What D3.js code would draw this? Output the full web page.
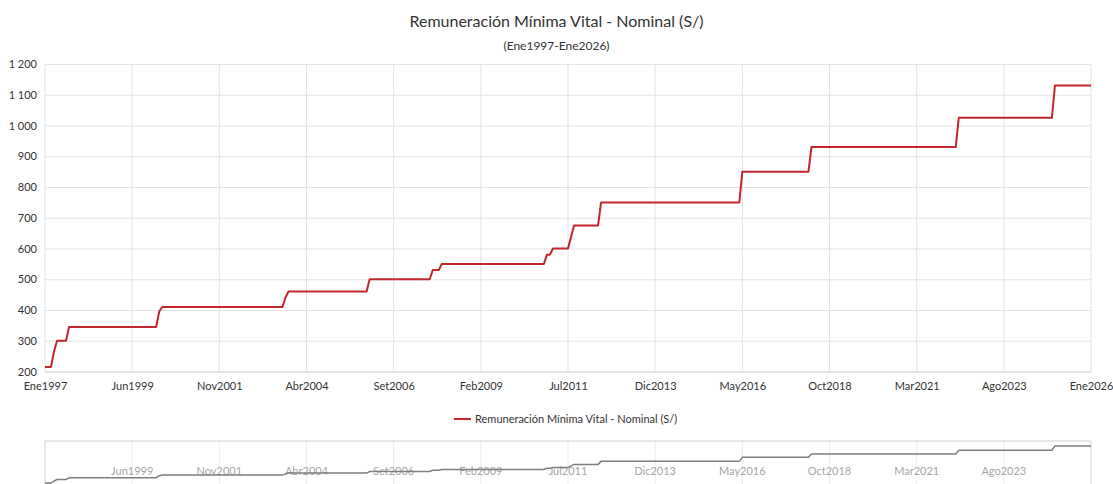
<!DOCTYPE html>
<html>
<head>
<meta charset="utf-8">
<script src="https://cdn.jsdelivr.net/npm/d3@7"></script>
<style>
  body { margin: 0; background: #fff; }
  svg { display: block; font-family: Lato, "Open Sans", sans-serif; }
</style>
</head>
<body>
<div id="chart"></div>
<script>
// RMV nominal, puntos de cambio (mes, soles)
const fechas = ["Ene1997","Mar1997","Abr1997","May1997","Ago1997","Set1997",
  "Feb2000","Mar2000","Abr2000","Ago2003","Set2003","Oct2003",
  "Dic2005","Ene2006","Set2007","Oct2007","Dic2007","Ene2008",
  "Nov2010","Dic2010","Ene2011","Feb2011","Jul2011","Ago2011","Set2011",
  "May2012","Jun2012","Abr2016","May2016","Mar2018","Abr2018",
  "Abr2022","May2022","Dic2024","Ene2025","Ene2026"];
const valores = [215,215,265,300,300,345,
  345,395,410,410,440,460,
  460,500,500,530,530,550,
  550,580,580,600,600,637,675,
  675,750,750,850,850,930,
  930,1025,1025,1130,1130];
const tickLabels = ["Ene1997","Jun1999","Nov2001","Abr2004","Set2006","Feb2009",
  "Jul2011","Dic2013","May2016","Oct2018","Mar2021","Ago2023","Ene2026"];
const yTicks = [200,300,400,500,600,700,800,900,1000,1100,1200];
const serieNombre = "Remuneración Mínima Vital - Nominal (S/)";
const titulo = "Remuneración Mínima Vital - Nominal (S/)";
const subtitulo = "(Ene1997-Ene2026)";

const meses = ["Ene","Feb","Mar","Abr","May","Jun","Jul","Ago","Set","Oct","Nov","Dic"];
const toIdx = s => (+s.slice(3) - 1997) * 12 + meses.indexOf(s.slice(0, 3));

const data = fechas.map((f, i) => ({x: toIdx(f), y: valores[i]}));

const width = 1113, height = 484;
const plot = {left: 45, right: 1091, top: 64, bottom: 371.5};
const lineColor = "#c1272d";

const loc = d3.formatLocale({decimal: ",", thousands: " ", grouping: [3], currency: ["", ""]});
const fmt = loc.format(",d");

const svg = d3.select("#chart").append("svg")
    .attr("width", width)
    .attr("height", height);

const x = d3.scaleLinear()
    .domain([0, toIdx("Ene2026")])
    .range([plot.left, plot.right]);
const y = d3.scaleLinear()
    .domain([200, 1200])
    .range([plot.bottom, plot.top]);

// titulo
svg.append("text")
    .attr("x", width / 2).attr("y", 27)
    .attr("text-anchor", "middle")
    .style("font-size", "16px").style("fill", "#333")
    .text(titulo);
svg.append("text")
    .attr("x", width / 2).attr("y", 50)
    .attr("text-anchor", "middle")
    .style("font-size", "12px").style("fill", "#333")
    .text(subtitulo);

// grilla vertical
const tickIdx = tickLabels.map(toIdx);
svg.append("g")
    .selectAll("line")
    .data(tickIdx)
    .join("line")
    .attr("x1", d => x(d)).attr("x2", d => x(d))
    .attr("y1", plot.top).attr("y2", plot.bottom)
    .attr("stroke", "#e3e3e3").attr("stroke-width", 1);

// eje y
const yAxis = svg.append("g")
    .attr("transform", "translate(" + plot.left + ",0)")
    .call(d3.axisLeft(y).tickValues(yTicks).tickFormat(fmt)
        .tickSize(-(plot.right - plot.left)).tickPadding(8));
yAxis.select(".domain").remove();
yAxis.selectAll(".tick line").attr("stroke", "#e3e3e3");
yAxis.selectAll(".tick text")
    .style("font-size", "11px").style("fill", "#333").style("font-family", "Lato, sans-serif");

// eje x
const xAxis = svg.append("g")
    .attr("transform", "translate(0," + plot.bottom + ")")
    .call(d3.axisBottom(x).tickValues(tickIdx)
        .tickFormat((d, i) => tickLabels[i]).tickSize(0).tickPadding(11));
xAxis.select(".domain").attr("stroke", "#d6d6d6");
xAxis.selectAll(".tick text")
    .style("font-size", "11px").style("fill", "#333").style("font-family", "Lato, sans-serif");

// linea
const line = d3.line().x(d => x(d.x)).y(d => y(d.y));
svg.append("path")
    .datum(data)
    .attr("d", line)
    .attr("fill", "none")
    .attr("stroke", lineColor)
    .attr("stroke-width", 2)
    .attr("stroke-linejoin", "round");

// leyenda
const leg = svg.append("g").attr("transform", "translate(454,419)");
leg.append("line")
    .attr("x1", 0).attr("x2", 17).attr("y1", 0).attr("y2", 0)
    .attr("stroke", lineColor).attr("stroke-width", 2);
leg.append("text")
    .attr("x", 21).attr("y", 4)
    .style("font-size", "11px").style("fill", "#333")
    .text(serieNombre);

// navegador
const nav = {top: 441, bottom: 500};
const yNav = d3.scaleLinear()
    .domain(d3.extent(valores))
    .range([483, 446]);

svg.append("g")
    .selectAll("line")
    .data(tickIdx.slice(1, -1))
    .join("line")
    .attr("x1", d => x(d)).attr("x2", d => x(d))
    .attr("y1", nav.top).attr("y2", nav.bottom)
    .attr("stroke", "#ececec");

svg.append("g")
    .selectAll("text")
    .data(tickIdx.slice(1, -1))
    .join("text")
    .attr("x", d => x(d)).attr("y", 475)
    .attr("text-anchor", "middle")
    .style("font-size", "11px").style("fill", "#a6a6a6")
    .text((d, i) => tickLabels[i + 1]);

svg.append("path")
    .attr("d", "M" + plot.left + "," + nav.bottom + "V" + nav.top + "H" + plot.right + "V" + nav.bottom)
    .attr("fill", "none")
    .attr("stroke", "#d0d0d0");

svg.append("path")
    .datum(data)
    .attr("d", d3.line().x(d => x(d.x)).y(d => yNav(d.y)))
    .attr("fill", "none")
    .attr("stroke", "#7f7f7f")
    .attr("stroke-width", 1.5);
</script>
</body>
</html>
